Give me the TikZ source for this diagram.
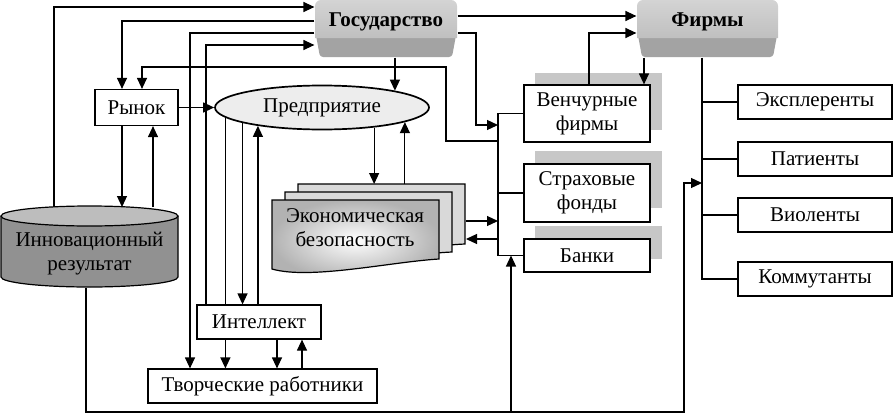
\documentclass[tikz,border=0pt]{standalone}
\usepackage{fontspec}
\setmainfont{Liberation Serif}
\usetikzlibrary{shapes.geometric,arrows.meta}
\definecolor{btnhi}{gray}{0.83}
\definecolor{btnmid}{gray}{0.75}
\definecolor{btnlow}{gray}{0.64}
\definecolor{cylbody}{gray}{0.57}
\definecolor{cyltopc}{gray}{0.74}
\definecolor{predfill}{gray}{0.93}
\definecolor{docback}{gray}{0.85}
\definecolor{finshadow}{gray}{0.78}

\begin{document}
\begin{tikzpicture}[x=1pt,y=-1pt,line width=1.2pt,
	font=\fontsize{21}{24}\selectfont,
	box/.style={draw,fill=white,inner sep=0pt,align=center},
	btntext/.style={inner sep=0pt,text height=26pt,text depth=31pt,font=\fontsize{21}{24}\selectfont\bfseries},
	arr/.style={-{Triangle[length=11pt,width=10pt]}}]
		\useasboundingbox (0,0) rectangle (893,415);
		
		% buttons
		\fill[btnlow,rounded corners=3pt] (315,30) -- (457,30) -- (452,57) -- (320,57) -- cycle;
		\shade[top color=btnhi,bottom color=btnmid] (315,38) [rounded corners=6pt]-- (315,0) -- (457,0) [sharp corners]-- (457,38) -- cycle;
		\fill[btnlow,rounded corners=3pt] (637,30) -- (778,30) -- (773,57) -- (642,57) -- cycle;
		\shade[top color=btnhi,bottom color=btnmid] (637,38) [rounded corners=6pt]-- (637,0) -- (778,0) [sharp corners]-- (778,38) -- cycle;
		
		% cylinder
		\filldraw[fill=cylbody] (1,216) -- (1,277) arc[start angle=180,end angle=360,x radius=88.5pt,y radius=10pt] -- (178,216);
		\filldraw[fill=cyltopc] (89.5,216) ellipse[x radius=88.5pt,y radius=10pt];
		
		% documents
		\filldraw[fill=docback] (298,184) -- (465,184) -- (465,244) .. controls (416,246) and (336,264) .. (298,253) -- cycle;
		\filldraw[fill=docback] (285,192) -- (452,192) -- (452,252) .. controls (403,254) and (323,272) .. (285,261) -- cycle;
		\shadedraw[inner color=white,outer color=gray!60] (272,200) -- (439,200) -- (439,259) .. controls (390,262) and (310,280) .. (272,269) -- cycle;
		
		% shadows
		\fill[finshadow] (535,73) rectangle (662,130);
		\fill[finshadow] (535,151) rectangle (662,208);
		\fill[finshadow] (535,226) rectangle (662,259);
		
		\node[btntext,minimum width=142pt] (gos) at (386,28.5) {Государство};
		\node[btntext,minimum width=141pt] (firm) at (707.5,28.5) {Фирмы};
		\node[box,minimum width=83pt,minimum height=36pt] (rynok) at (136.5,107.5) {Рынок};
		\node[draw,ellipse,fill=predfill,line width=1.7pt,inner sep=0pt,minimum width=214pt,minimum height=44pt] (pred) at (322,107.5) {Предприятие};
		\node[align=center,minimum width=177pt,minimum height=66pt] (cyl) at (89.5,254) {Инновационный\\результат};
		\node[align=center] (econ) at (355,228) {Экономическая\\безопасность};
		\node[box,minimum width=124pt,minimum height=34pt] (intel) at (259,322) {Интеллект};
		\node[box,minimum width=229pt,minimum height=34pt] (tvor) at (262.5,386) {Творческие работники};
		\node[box,minimum width=126pt,minimum height=57pt] (ven) at (587,113.5) {Венчурные\\фирмы};
		\node[box,minimum width=126pt,minimum height=58pt] (str) at (587,193) {Страховые\\фонды};
		\node[box,minimum width=126pt,minimum height=33pt] (bank) at (587,255.5) {Банки};
		\node[box,minimum width=154pt,minimum height=34pt] (expl) at (815,102) {Эксплеренты};
		\node[box,minimum width=154pt,minimum height=34pt] (pat) at (815,159) {Патиенты};
		\node[box,minimum width=154pt,minimum height=34pt] (viol) at (815,215) {Виоленты};
		\node[box,minimum width=154pt,minimum height=34pt] (komm) at (815,279) {Коммутанты};
		
		\coordinate (cyltop) at (89.5,207);
		\coordinate (k1) at (54,7);
		\coordinate (k2) at (122,21);
		\coordinate (k3) at (190,33);
		\coordinate (k4) at (206,45);
		\coordinate (m1) at (446,141);
		\coordinate (m2) at (142,67);
		\coordinate (m3) at (476,33);
		\coordinate (m4) at (498,125);
		\coordinate (bk) at (498,0);
		\coordinate (v1) at (589,33);
		\coordinate (v2) at (644,0);
		\coordinate (e1) at (466,221);
		\coordinate (e2) at (466,239);
		\coordinate (b1) at (86,412);
		\coordinate (b2) at (684,183);
		\coordinate (b3) at (511,412);
		\coordinate (fl) at (702,183);
		
		\draw[arr] (k1 |- cyltop) -- (k1) -- (k1 -| gos.west);
		\draw[arr] (k2 -| gos.west) -- (k2) -- (k2 |- rynok.north);
		\draw[arr] (k3 -| gos.west) -- (k3) -- (k3 |- tvor.north);
		\draw[arr] (k4 |- intel.north) -- (k4) -- (k4 -| gos.west);
		\draw[arr] (m1 -| bk) -- (m1) |- (m2) -- (m2 |- rynok.north);
		\draw[arr] (m3 -| gos.east) -- (m3) |- (m4);
		\draw[arr] ([yshift=12.5pt]gos.east) -- ([yshift=12.5pt]firm.west);
		\draw[arr] (gos.south -| pred.13.5) -- (pred.13.5);
		
		\draw[arr] (rynok.east) -- (pred.west);
		\draw[arr] ([xshift=-14.5pt]rynok.south) -- ([xshift=-14.5pt]rynok.south |- cyltop);
		\draw[arr] ([xshift=16.5pt]rynok.south |- cyltop) -- ([xshift=16.5pt]rynok.south);
		
		\draw[arr] (pred.-21.3) -- (pred.-21.3 |- 0,184);
		\draw[arr] (pred.-10.3 |- 0,184) -- (pred.-10.3);
		\draw[arr] (pred.191.8) -- (pred.191.8 |- intel.north);
		\draw[arr] (intel.north -| pred.196.9) -- (pred.196.9);
		\draw (pred.186.1) -- (pred.186.1 |- intel.north);
		\draw[arr] (pred.186.1 |- intel.south) -- (pred.186.1 |- tvor.north);
		\draw[arr] ([xshift=18pt]intel.south) -- ([xshift=18pt]intel.south |- tvor.north);
		\draw[arr] ([xshift=39.5pt]tvor.north) -- ([xshift=39.5pt]tvor.north |- intel.south);
		
		\draw (ven.west) -- (ven.west -| bk) -- (bank.west -| bk) -- (bank.west);
		\draw (str.west -| bk) -- (str.west);
		\draw[arr] (e1) -- (e1 -| bk);
		\draw[arr] (e2 -| bk) -- (e2);
		
		\draw[arr] (v1 |- ven.north) -- (v1) -- (v1 -| firm.west);
		\draw[arr] (v2 |- firm.south) -- (v2 |- ven.north);
		
		\draw (firm.south -| fl) |- (komm.west);
		\draw (expl.west -| fl) -- (expl.west);
		\draw (pat.west -| fl) -- (pat.west);
		\draw (viol.west -| fl) -- (viol.west);
		
		\draw[arr] (b1 |- cyl.south) -- (b1) -| (b2) -- (fl);
		\draw[arr] (b3) -- (b3 |- bank.west);
\end{tikzpicture}
\end{document}
